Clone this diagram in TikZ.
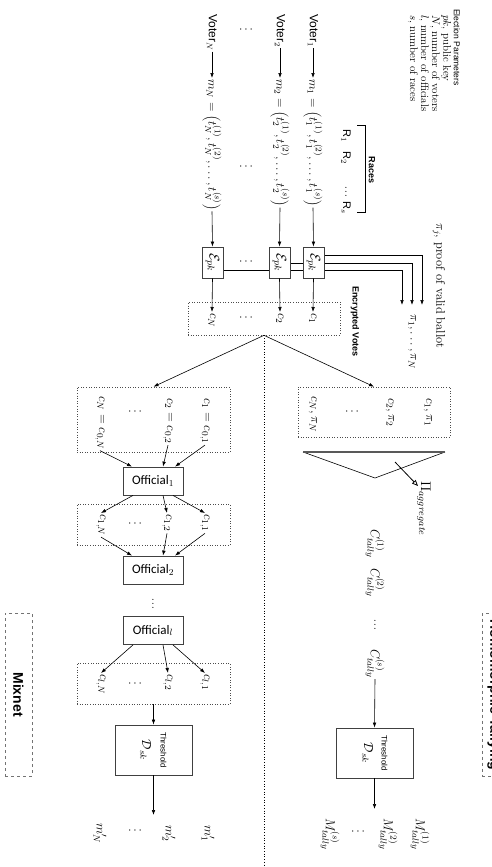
\RequirePackage{fix-cm}
\documentclass[tikz,border=0pt]{standalone}
\usepackage{fontspec}
\setsansfont{Liberation Sans}
\newfontfamily\offont{Carlito}
\usetikzlibrary{arrows.meta,calc,backgrounds}
\begin{document}
\begin{tikzpicture}[x=1pt,y=-1pt,
  every node/.style={font=\fontsize{13}{15}\selectfont},
  rt/.style={rotate=-90,inner sep=1pt},
  dts/.style={inner sep=0pt,font=\fontsize{12}{13}\selectfont},
  arr/.style={-{Latex[length=5pt,width=3.6pt]},line width=0.6pt},
  ln/.style={line width=0.7pt},
  ebox/.style={rotate=-90,draw=black!75,line width=0.8pt,fill=white,minimum width=31pt,minimum height=21pt,inner sep=0pt,font=\fontsize{14}{16}\selectfont},
  obox/.style={draw=black!75,line width=0.8pt,fill=white,minimum width=60pt,minimum height=28pt,inner sep=0pt,font=\offont\fontsize{13}{15}\selectfont},
  tbox/.style={draw=black!75,line width=0.8pt,minimum width=77pt,minimum height=50pt,inner sep=0pt},
  dbox/.style={draw=black!70,dotted,line width=0.6pt,inner sep=0pt},
  mbox/.style={draw=black!55,dashed,line width=1pt,minimum width=27pt,minimum height=163pt,inner sep=0pt},
  desc/.style={rt,anchor=west,font=\fontsize{11}{12}\selectfont},
  thr/.style={rt,font=\sffamily\fontsize{8}{9}\selectfont},
  big/.style={rt,font=\sffamily\bfseries\fontsize{14}{16}\selectfont},
  lab/.style={rt,font=\sffamily\bfseries\fontsize{9}{10}\selectfont},
  tup/.style={rt,anchor=west,font=\fontsize{12.5}{15}\selectfont},
  vot/.style={rt,anchor=west,font=\sffamily\fontsize{12}{14}\selectfont},
]
\useasboundingbox (0,0) rectangle (492,867);
\clip (0,0) rectangle (492,867);

% Election parameters
\node[rt,anchor=west,font=\sffamily\fontsize{8.5}{9}\selectfont] (ep) at (457,8) {Election Parameters};
\node[desc] (ep1) at (446,14) {$pk$, public key};
\node[desc] (ep2) at (435,14) {$N$, number of voters};
\node[desc] (ep3) at (424,14) {$l$, number of officials};
\node[desc] (ep4) at (413,14) {$s$, number of races};

\node[rt,anchor=west,font=\fontsize{12.5}{14}\selectfont] (pij) at (439,222) {$\pi_j$, proof of valid ballot};

% Races
\draw[ln] (357,125) -- (365,125) -- (365,212) -- (357,212);
\node[lab] (races) at (372,170) {Races};
\node[rt,font=\sffamily\fontsize{11}{12}\selectfont] (r1) at (346,136) {R$_1$};
\node[rt,font=\sffamily\fontsize{11}{12}\selectfont] (r2) at (346,158) {R$_2$};
\node[dts] (rd) at (346,189) {$\vdots$};
\node[rt,font=\sffamily\fontsize{11}{12}\selectfont] (rs) at (346,208) {R$_s$};

% Voters
\node[vot] (v1) at (313,13) {Voter$_1$};
\node[vot] (v2) at (280,13) {Voter$_2$};
\node[vot] (vN) at (212,13) {Voter$_N$};
\node[tup] (m1) at (313,78) {$m_1 = \left(t_1^{(1)}, t_1^{(2)}, \ldots, t_1^{(s)}\right)$};
\node[tup] (m2) at (280,78) {$m_2 = \left(t_2^{(1)}, t_2^{(2)}, \ldots, t_2^{(s)}\right)$};
\node[tup] (mN) at (212,78) {$m_N = \left(t_N^{(1)}, t_N^{(2)}, \ldots, t_N^{(s)}\right)$};
\draw[arr] (v1.east) -- (m1.west);
\draw[arr] (v2.east) -- (m2.west);
\draw[arr] (vN.east) -- (mN.west);
\node[dts] (vd1) at (246,30) {$\cdots$};
\node[dts] (vd2) at (246,167) {$\cdots$};
\node[dts] (vd3) at (246,262) {$\cdots$};
\node[dts] (vd4) at (246,318) {$\cdots$};

% Encryption boxes
\node[ebox] (e1) at (313.5,262.5) {$\mathcal{E}_{pk}$};
\node[ebox] (e2) at (279.5,262.5) {$\mathcal{E}_{pk}$};
\node[ebox] (eN) at (212.5,262.5) {$\mathcal{E}_{pk}$};
\coordinate (pa) at (422,305);
\coordinate (pb) at (412,305);
\coordinate (pc) at (402,305);
\begin{scope}[on background layer]
\draw[arr] ($(e1.north)+(0,-7.5)$) -| (pa);
\draw[arr] ($(e2.north)+(0,0.5)$) -| (pb);
\draw[arr] ($(eN.north)+(0,7.5)$) -| (pc);
\end{scope}
\draw[arr] (m1.east) -- (e1.west);
\draw[arr] (m2.east) -- (e2.west);
\draw[arr] (mN.east) -- (eN.west);
\node[rt,anchor=west,font=\fontsize{12.5}{14}\selectfont] (pil) at (412,313) {$\pi_1, \ldots, \pi_N$};

% Encrypted votes
\node[dbox,minimum width=152pt,minimum height=33pt] (ev) at (264,318.5) {};
\node[lab,anchor=west] (evl) at (355,285) {Encrypted Votes};
\node[rt,anchor=west] (c1) at (313,312) {$c_1$};
\node[rt,anchor=west] (c2) at (280,312) {$c_2$};
\node[rt,anchor=west] (cN) at (212,312) {$c_N$};
\draw[arr] (e1.east) -- (c1.west);
\draw[arr] (e2.east) -- (c2.west);
\draw[arr] (eN.east) -- (cN.west);

\coordinate (bot) at (264,867);
\draw[dotted,line width=0.7pt] (ev.south) -- (bot);

% Tallying side
\node[dbox,minimum width=152pt,minimum height=50pt] (tb) at (374,412) {};
\node[dbox,minimum width=153pt,minimum height=65pt] (mx0) at (153.5,419.5) {};
\draw[arr] (ev.south) -- (mx0.north);
\draw[arr] (ev.south) -- (tb.north);
\node[rt,anchor=west] (tc1) at (428,397) {$c_1, \pi_1$};
\node[rt,anchor=west] (tc2) at (390,397) {$c_2, \pi_2$};
\node[dts] (tcd) at (352,412) {$\cdots$};
\node[rt,anchor=west] (tcN) at (313,395) {$c_N, \pi_N$};

\coordinate (ta) at (303,452);
\coordinate (tbb) at (445,452);
\coordinate (tc) at (375,478);
\draw[line width=0.6pt] (tbb) -- (tc) -- (ta);
\draw[line width=1.1pt,black!65] (ta) -- (tbb);
\coordinate (ag0) at (395,462);
\coordinate (ag1) at (418,486);
\draw[-{Triangle[open,length=6pt,width=5pt]},line width=0.8pt] (ag0) -- (ag1);
\node[rt,anchor=west,font=\fontsize{14}{16}\selectfont] (agl) at (424,480) {$\Pi_{aggregate}$};

\node[rt,anchor=west] (ct1) at (375,528) {$C_{tally}^{(1)}$};
\node[rt,anchor=west] (ct2) at (375,567) {$C_{tally}^{(2)}$};
\node[dts] (ctd) at (375,622) {$\vdots$};
\node[rt,anchor=west] (cts) at (375,648) {$C_{tally}^{(s)}$};

\node[tbox] (tha) at (374.5,753) {};
\node[thr] (thal) at ($(tha.center)+(10,0)$) {Threshold};
\node[rt] (thad) at ($(tha.center)+(-7,0)$) {$\mathcal{D}_{sk}$};
\draw[arr] (cts.east) -- (tha.north);
\coordinate (thaout) at (374.5,809);
\draw[arr] (tha.south) -- (thaout);
\node[rt,anchor=west] (M1) at (420,817) {$M_{tally}^{(1)}$};
\node[rt,anchor=west] (M2) at (388,817) {$M_{tally}^{(2)}$};
\node[dts] (Md) at (358,832) {$\cdots$};
\node[rt,anchor=west] (Ms) at (330,817) {$M_{tally}^{(s)}$};

% Mixnet side
\node[rt,anchor=west] (a1) at (205,397) {$c_1 = c_{0,1}$};
\node[rt,anchor=west] (a2) at (168,397) {$c_2 = c_{0,2}$};
\node[dts] (ad) at (135,412) {$\cdots$};
\node[rt,anchor=west] (aN) at (100,395) {$c_N = c_{0,N}$};

\node[obox] (o1) at (153,481) {Official$_1$};
\draw[arr] (a1.east) -- ([xshift=22pt]o1.north);
\draw[arr] (a2.east) -- ([xshift=10pt]o1.north);
\draw[arr] (aN.east) -- ([xshift=-21pt]o1.north);

\node[dbox,minimum width=153pt,minimum height=41pt] (mx1) at (153.5,524.5) {};
\node[rt,anchor=west] (b1) at (205,513) {$c_{1,1}$};
\node[rt,anchor=west] (b2) at (167,513) {$c_{1,2}$};
\node[dts] (bd) at (135,524) {$\cdots$};
\node[rt,anchor=west] (bN) at (101,513) {$c_{1,N}$};
\draw[arr] ([xshift=20pt]o1.south) -- (b1.west);
\draw[arr] ([xshift=10pt]o1.south) -- (b2.west);
\draw[arr] ([xshift=-20pt]o1.south) -- (bN.west);

\node[obox] (o2) at (153,570) {Official$_2$};
\draw[arr] (b1.east) -- ([xshift=22pt]o2.north);
\draw[arr] (b2.east) -- ([xshift=10pt]o2.north);
\draw[arr] (bN.east) -- ([xshift=-21pt]o2.north);

\node[dts] (od) at (153,601) {$\vdots$};
\node[obox] (ol) at (153,630.5) {Official$_l$};

\node[dbox,minimum width=153pt,minimum height=41pt] (mx2) at (153.5,683.5) {};
\node[rt,anchor=west] (d1) at (205,673) {$c_{l,1}$};
\node[rt,anchor=west] (d2) at (168,673) {$c_{l,2}$};
\node[dts] (dd) at (135,684) {$\cdots$};
\node[rt,anchor=west] (dN) at (101,673) {$c_{l,N}$};
\draw[arr] ([xshift=20pt]ol.south) -- (d1.west);
\draw[arr] ([xshift=10pt]ol.south) -- (d2.west);
\draw[arr] ([xshift=-20pt]ol.south) -- (dN.west);

\node[tbox] (thm) at (153.5,750) {};
\node[thr] (thml) at ($(thm.center)+(10,0)$) {Threshold};
\node[rt] (thmd) at ($(thm.center)+(-8,0)$) {$\mathcal{D}_{sk}$};
\draw[arr] (mx2.south) -- (thm.north);
\coordinate (thmout) at (153.5,815);
\draw[arr] (thm.south) -- (thmout);
\node[rt,anchor=west] (mo1) at (208,824) {$m_1'$};
\node[rt,anchor=west] (mo2) at (169,824) {$m_2'$};
\node[dts] (mod) at (135,831) {$\cdots$};
\node[rt,anchor=west] (moN) at (100,822) {$m_N'$};

% Section labels
\node[mbox] (mixb) at (18.5,694.5) {};
\node[big] (mixl) at (mixb.center) {Mixnet};
\node[mbox] (homb) at (495.5,695) {};
\node[big] (homl) at (494,695) {Homomorphic Tallying};
\end{tikzpicture}
\end{document}
